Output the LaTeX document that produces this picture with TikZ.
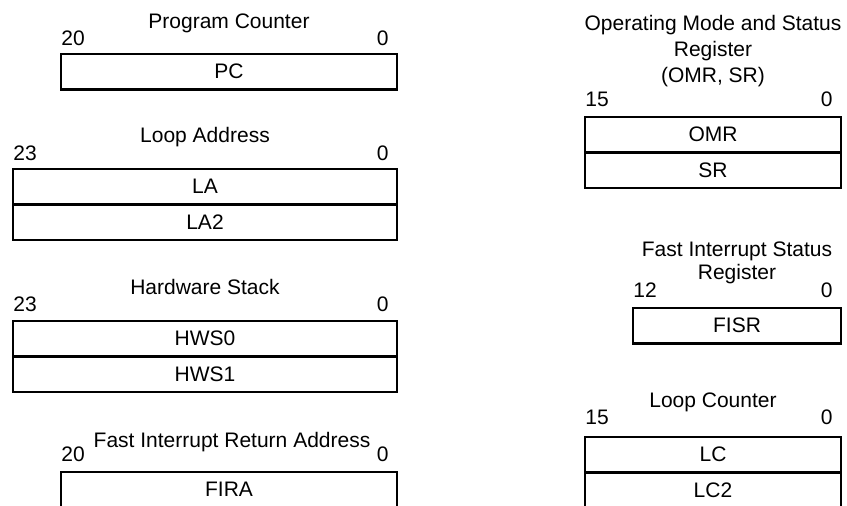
\documentclass[tikz,border=0pt]{standalone}
\usepackage{fontspec}
\setmainfont{Liberation Sans}
\usetikzlibrary{positioning}
\newcommand{\regfont}{\fontsize{10.5}{12.5}\selectfont}
\tikzset{
  regbox/.style={draw, line width=1.1pt, inner sep=0pt, outer sep=0pt,
    minimum width=#1, minimum height=17.75pt, anchor=north west, font=\regfont},
  regname/.style={font=\regfont, anchor=base, align=center, inner sep=0pt},
  bithi/.style={font=\regfont, anchor=base west, inner sep=0pt},
  bitlo/.style={font=\regfont, anchor=base east, inner sep=0pt}
}

\begin{document}
\begin{tikzpicture}[x=0.5pt, y=-0.5pt]

\useasboundingbox (0,0) rectangle (847,506);

%--- Left column ---

% Program counter
\node[regname] (pcname) at (229,29) {Program Counter};
\node[bithi]   (pchi)   at (61,46)  {20};
\node[bitlo]   (pclo)   at (389,46) {0};
\node[regbox=168pt] (pc) at (61,54) {PC};

% Loop address
\node[regname] (laname) at (205,143) {Loop Address};
\node[bithi]   (lahi)   at (13,161)  {23};
\node[bitlo]   (lalo)   at (389,161) {0};
\node[regbox=192pt] (la) at (13,169) {LA};
\node[regbox=192pt, below=0pt of la] (latwo) {LA2};

% Hardware stack
\node[regname] (hwsname) at (205,295) {Hardware Stack};
\node[bithi]   (hwshi)   at (13,312)  {23};
\node[bitlo]   (hwslo)   at (389,312) {0};
\node[regbox=192pt] (hwszero) at (13,321) {HWS0};
\node[regbox=192pt, below=0pt of hwszero] (hwsone) {HWS1};

% Fast interrupt return address (cut off at the bottom)
\node[regname] (firaname) at (232,448) {Fast Interrupt Return Address};
\node[bithi]   (firahi)   at (61,462)  {20};
\node[bitlo]   (firalo)   at (389,462) {0};
\node[regbox=168pt] (fira) at (61,472) {FIRA};

%--- Right column ---

% Operating mode and status register (base = last line)
\node[regname] (omrname) at (713,83) {Operating Mode and Status\\[0.6pt]Register\\[0.6pt](OMR, SR)};
\node[bithi]   (omrhi)   at (585,107) {15};
\node[bitlo]   (omrlo)   at (833,107) {0};
\node[regbox=128pt] (omr) at (585,117) {OMR};
\node[regbox=128pt, below=0pt of omr] (sr) {SR};

% Fast interrupt status register
\node[regname] (fisrname) at (737,280) {Fast Interrupt Status\\[-1pt]Register};
\node[bithi]   (fisrhi)   at (633,298) {12};
\node[bitlo]   (fisrlo)   at (833,298) {0};
\node[regbox=104pt] (fisr) at (633,308) {FISR};

% Loop counter
\node[regname] (lcname) at (713,408) {Loop Counter};
\node[bithi]   (lchi)   at (585,425) {15};
\node[bitlo]   (lclo)   at (833,425) {0};
\node[regbox=128pt] (lc) at (585,437) {LC};
\node[regbox=128pt, below=0pt of lc] (lctwo) {LC2};

\end{tikzpicture}
\end{document}
